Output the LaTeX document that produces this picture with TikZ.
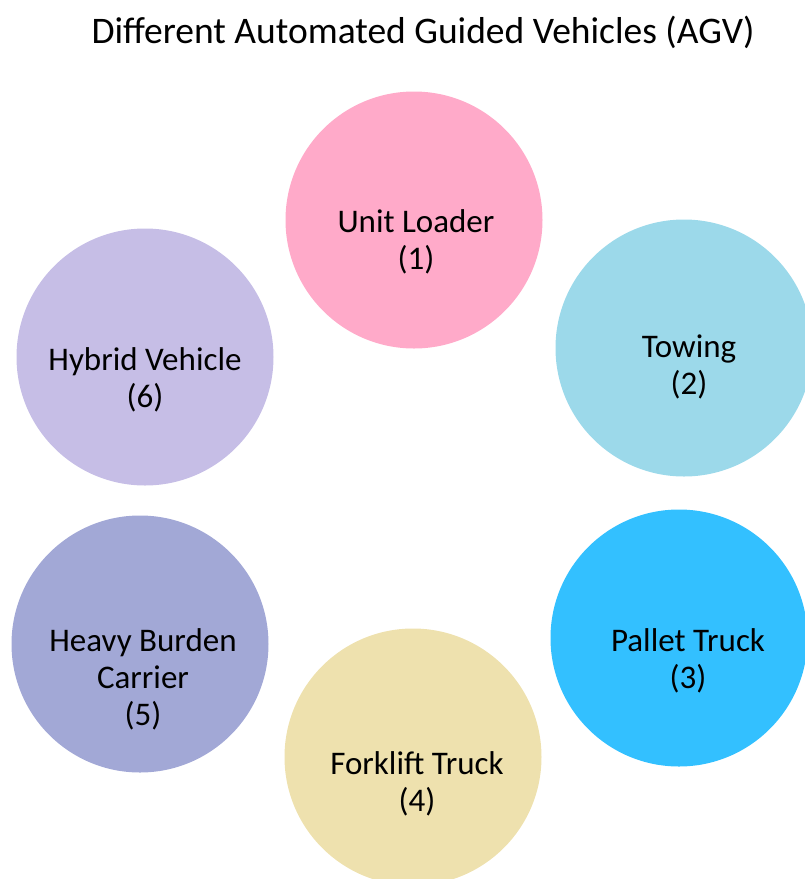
\documentclass[tikz,border=0pt]{standalone}
\usepackage{fontspec}
\setmainfont{Carlito}
\usepackage{tikz}
\usetikzlibrary{positioning}

\definecolor{unitpink}{HTML}{FFAAC9}
\definecolor{towblue}{HTML}{9CD9EA}
\definecolor{palletblue}{HTML}{33C0FF}
\definecolor{forksand}{HTML}{EEE1AE}
\definecolor{heavyblue}{HTML}{A2A8D6}
\definecolor{hybridlilac}{HTML}{C6BEE6}

\begin{document}
\begin{tikzpicture}
	[x=1pt, y=-1pt,
	 agv/.style={circle, minimum size=257pt, inner sep=0pt, draw=none},
	 agvtext/.style={align=center, anchor=north, inner sep=0pt, font=\fontsize{33}{37}\selectfont}]
	\useasboundingbox (0,0) rectangle (805,879);
	\node[anchor=base, inner sep=0pt, font=\fontsize{37.5}{42}\selectfont] (title) at (423,43) {Different Automated Guided Vehicles (AGV)};
	\node[agv, fill=unitpink] (unit) at (414,220) {};
	\node[agvtext, below=-11pt of unit.center, xshift=2pt] (unittext) {Unit Loader\\(1)};
	\node[agv, fill=towblue] (tow) at (684,348) {};
	\node[agvtext, below=-13pt of tow.center, xshift=5pt] (towtext) {Towing\\(2)};
	\node[agv, fill=palletblue] (pallet) at (679,638) {};
	\node[agvtext, below=-10pt of pallet.center, xshift=9pt] (pallettext) {Pallet Truck\\(3)};
	\node[agv, fill=forksand] (fork) at (413,757) {};
	\node[agvtext, below=-6pt of fork.center, xshift=4pt] (forktext) {Forklift Truck\\(4)};
	\node[agv, fill=heavyblue] (heavy) at (140,644) {};
	\node[agvtext, below=-16pt of heavy.center, xshift=3pt] (heavytext) {Heavy Burden\\Carrier\\(5)};
	\node[agv, fill=hybridlilac] (hybrid) at (145,357) {};
	\node[agvtext, below=-10pt of hybrid.center] (hybridtext) {Hybrid Vehicle\\(6)};
\end{tikzpicture}
\end{document}
